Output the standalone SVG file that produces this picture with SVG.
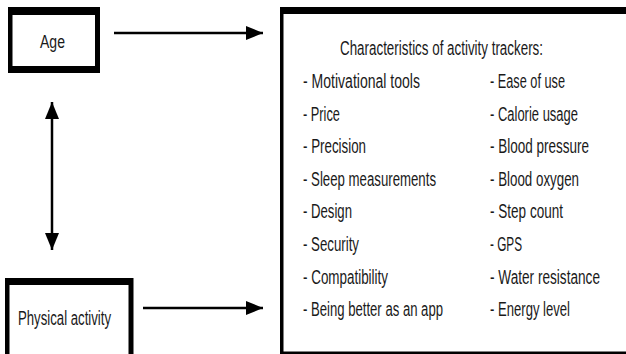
<svg xmlns="http://www.w3.org/2000/svg" width="626" height="354" viewBox="0 0 626 354">
  <style>
    .frame { fill: #000000; }
    .inner { fill: #ffffff; }
    .label { font-family: "Liberation Sans", Arial, sans-serif; fill: #1a1a1a; }
    .item { font-family: "Liberation Sans", Arial, sans-serif; font-size: 20px; fill: #1a1a1a; }
    .conn { stroke: #000000; stroke-width: 2.5; fill: none; }
  </style>
  <defs>
    <marker id="head" markerUnits="userSpaceOnUse" markerWidth="18" markerHeight="14" refX="17" refY="7" orient="auto-start-reverse">
      <path d="M0,0 L17,7 L0,14 Z" fill="#000000"/>
    </marker>
  </defs>
  <rect x="0" y="0" width="626" height="354" fill="#ffffff"/>

  <!-- Age box -->
  <g id="age">
    <rect class="frame" x="8" y="7" width="92" height="66"/>
    <rect class="inner" x="12.5" y="15" width="82.5" height="51"/>
    <text class="label" x="40" y="48" font-size="18" textLength="25" lengthAdjust="spacingAndGlyphs">Age</text>
  </g>

  <!-- Physical activity box (runs off the lower edge) -->
  <g id="physical-activity">
    <rect class="frame" x="5" y="278" width="128.5" height="80"/>
    <rect class="inner" x="9.5" y="285" width="119" height="75"/>
    <text class="label" x="18" y="325" font-size="20" textLength="93" lengthAdjust="spacingAndGlyphs">Physical activity</text>
  </g>

  <!-- Characteristics box (open on the right edge) -->
  <g id="characteristics">
    <rect class="frame" x="280" y="7" width="350" height="347"/>
    <rect class="inner" x="283.5" y="14" width="350" height="337.5"/>
    <text class="item" x="340" y="55" font-size="21" textLength="203" lengthAdjust="spacingAndGlyphs">Characteristics of activity trackers:</text>
    <g class="col-left">
      <text class="item" x="303" y="88" textLength="117" lengthAdjust="spacingAndGlyphs">- Motivational tools</text>
      <text class="item" x="303" y="120.6" textLength="37" lengthAdjust="spacingAndGlyphs">- Price</text>
      <text class="item" x="303" y="153.2" textLength="63" lengthAdjust="spacingAndGlyphs">- Precision</text>
      <text class="item" x="303" y="185.8" textLength="133" lengthAdjust="spacingAndGlyphs">- Sleep measurements</text>
      <text class="item" x="303" y="218.4" textLength="49" lengthAdjust="spacingAndGlyphs">- Design</text>
      <text class="item" x="303" y="251" textLength="56" lengthAdjust="spacingAndGlyphs">- Security</text>
      <text class="item" x="303" y="283.6" textLength="85" lengthAdjust="spacingAndGlyphs">- Compatibility</text>
      <text class="item" x="303" y="316.2" textLength="140" lengthAdjust="spacingAndGlyphs">- Being better as an app</text>
    </g>
    <g class="col-right">
      <text class="item" x="490" y="88" textLength="75" lengthAdjust="spacingAndGlyphs">- Ease of use</text>
      <text class="item" x="490" y="120.6" textLength="88" lengthAdjust="spacingAndGlyphs">- Calorie usage</text>
      <text class="item" x="490" y="153.2" textLength="99" lengthAdjust="spacingAndGlyphs">- Blood pressure</text>
      <text class="item" x="490" y="185.8" textLength="89" lengthAdjust="spacingAndGlyphs">- Blood oxygen</text>
      <text class="item" x="490" y="218.4" textLength="73" lengthAdjust="spacingAndGlyphs">- Step count</text>
      <text class="item" x="490" y="251" textLength="32" lengthAdjust="spacingAndGlyphs">- GPS</text>
      <text class="item" x="490" y="283.6" textLength="110" lengthAdjust="spacingAndGlyphs">- Water resistance</text>
      <text class="item" x="490" y="316.2" textLength="80" lengthAdjust="spacingAndGlyphs">- Energy level</text>
    </g>
  </g>

  <!-- Connectors -->
  <g id="connectors">
    <line class="conn" x1="114" y1="33" x2="263" y2="33" marker-end="url(#head)"/>
    <line class="conn" x1="143" y1="308" x2="263" y2="308" marker-end="url(#head)"/>
    <line class="conn" x1="52" y1="102" x2="52" y2="250" marker-start="url(#head)" marker-end="url(#head)"/>
  </g>
</svg>
